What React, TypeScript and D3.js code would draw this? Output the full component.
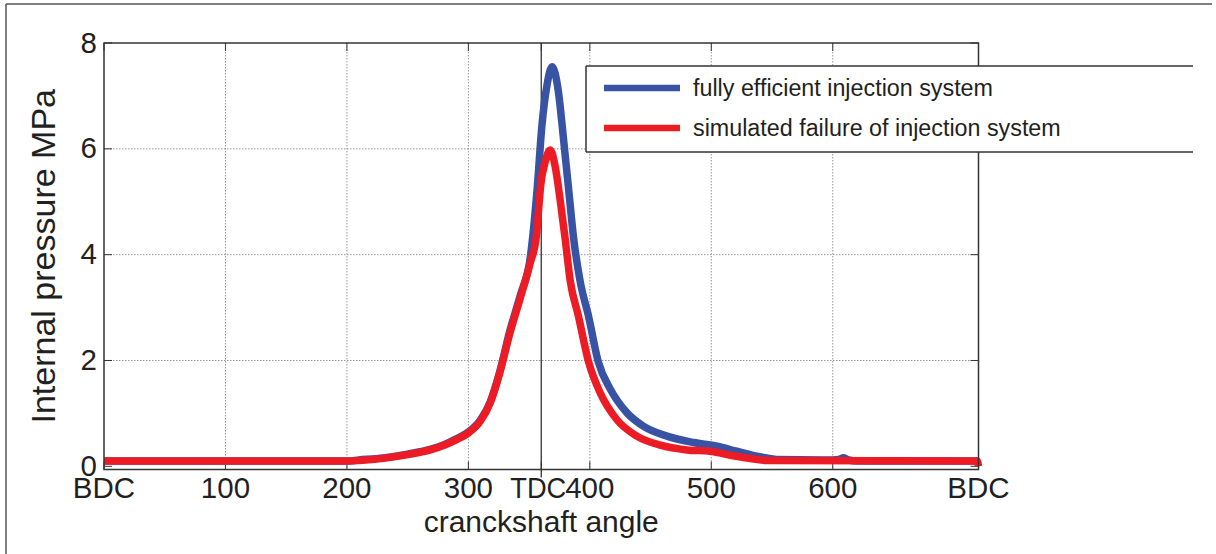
import React from "react";
import * as d3 from "d3";

// Crank angle (deg) and internal pressure (MPa)
const blueAngles = [0, 200, 210, 230, 250, 270, 280, 290, 300, 310, 318, 326, 334, 343, 351, 356.5, 360.6, 364.7, 369, 374, 378.4, 382.6, 386.7, 392, 399, 407, 417, 430.6, 444, 463.5, 485.5, 504.7, 521, 540, 554, 600, 605, 609, 613, 620, 720];
const blueValues = [0.1, 0.1, 0.12, 0.16, 0.23, 0.33, 0.41, 0.52, 0.65, 0.88, 1.22, 1.8, 2.55, 3.25, 3.95, 5.2, 6.45, 7.2, 7.55, 7.1, 6.17, 5.22, 4.3, 3.5, 2.83, 1.97, 1.45, 1.01, 0.76, 0.57, 0.45, 0.38, 0.285, 0.18, 0.13, 0.12, 0.13, 0.16, 0.12, 0.1, 0.1];

const redAngles = [0, 200, 210, 230, 250, 270, 280, 290, 300, 310, 318, 326, 334, 343, 351, 356, 358, 359.5, 363, 367.4, 371.5, 375.6, 379.8, 383.9, 390.7, 399, 408.5, 422.3, 438.7, 458, 480, 499, 518, 535, 546, 719, 720];
const redValues = [0.1, 0.1, 0.11, 0.15, 0.22, 0.32, 0.4, 0.5, 0.63, 0.86, 1.2, 1.78, 2.5, 3.2, 3.85, 4.35, 4.9, 5.3, 5.73, 5.98, 5.66, 5.03, 4.28, 3.5, 2.83, 1.97, 1.39, 0.88, 0.57, 0.4, 0.31, 0.285, 0.2, 0.14, 0.11, 0.1, 0.0];

const xTickValues = [0, 100, 200, 300, 360, 400, 500, 600, 720];
const xTickLabels = ["BDC", "100", "200", "300", "TDC", "400", "500", "600", "BDC"];
const xGridValues = [100, 200, 300, 400, 500, 600];
const yTickValues = [0, 2, 4, 6, 8];
const yGridValues = [2, 4, 6];

const seriesNames = ["fully efficient injection system", "simulated failure of injection system"];
const seriesColors = ["#3953a4", "#ed1c24"];

const W = 1216;
const H = 554;
const L = 104, R = 978.5, T = 43, B = 469.5;
const FONT = "'Liberation Sans', Arial, Helvetica, sans-serif";
const TEXT = "#231f20";
const AX = "#333333";

export default function App() {
  const x = d3.scaleLinear().domain([0, 720]).range([L, R]);
  const y = d3.scaleLinear().domain([-0.06, 8]).range([B, T]);
  const line = d3
    .line<[number, number]>()
    .x((d) => x(d[0]))
    .y((d) => y(d[1]))
    .curve(d3.curveMonotoneX);
  const blue: [number, number][] = blueAngles.map((a, i) => [a, blueValues[i]]);
  const red: [number, number][] = redAngles.map((a, i) => [a, redValues[i]]);

  const tickLen = 8;

  return (
    <svg
      width={W}
      height={H}
      style={{ position: "absolute", left: 0, top: 0, background: "#fff" }}
      fontFamily={FONT}
    >
      <rect x={0} y={0} width={W} height={H} fill="#fff" />
      {/* outer figure frame (top & left) */}
      <line x1={6} y1={4} x2={1212} y2={4} stroke="#555" strokeWidth={1.5} />
      <line x1={6} y1={4} x2={6} y2={H} stroke="#555" strokeWidth={1.5} />

      {/* grid */}
      {xGridValues.map((v) => (
        <line key={"gx" + v} x1={x(v)} x2={x(v)} y1={T} y2={B} stroke="#8a8a8a" strokeWidth={0.9} strokeDasharray="1.5,1.5" />
      ))}
      {yGridValues.map((v) => (
        <line key={"gy" + v} x1={L} x2={R} y1={y(v)} y2={y(v)} stroke="#8a8a8a" strokeWidth={0.9} strokeDasharray="1.5,1.5" />
      ))}

      {/* TDC line */}
      <line x1={x(360)} x2={x(360)} y1={T} y2={B + 8} stroke={AX} strokeWidth={1.3} />

      {/* ticks */}
      {xTickValues.map((v) => (
        <g key={"tx" + v}>
          <line x1={x(v)} x2={x(v)} y1={B} y2={B - tickLen} stroke={AX} strokeWidth={1} />
          <line x1={x(v)} x2={x(v)} y1={T} y2={T + tickLen} stroke={AX} strokeWidth={1} />
        </g>
      ))}
      {yTickValues.map((v) => (
        <g key={"ty" + v}>
          <line x1={L} x2={L + tickLen} y1={y(v)} y2={y(v)} stroke={AX} strokeWidth={1} />
          <line x1={R} x2={R - tickLen} y1={y(v)} y2={y(v)} stroke={AX} strokeWidth={1} />
        </g>
      ))}

      {/* data */}
      <path d={line(blue) || ""} fill="none" stroke={seriesColors[0]} strokeWidth={7.5} strokeLinejoin="round" />
      <path d={line(red) || ""} fill="none" stroke={seriesColors[1]} strokeWidth={7.5} strokeLinejoin="round" />

      {/* axes box */}
      <rect x={L} y={T} width={R - L} height={B - T} fill="none" stroke={AX} strokeWidth={1.5} />

      {/* tick labels */}
      {xTickValues.map((v, i) =>
        xTickLabels[i] === "TDC" ? (
          <text key={"lx" + v} x={x(v) - 3} y={498} textAnchor="middle" fontSize={29.5} fill={TEXT} textLength={56} lengthAdjust="spacingAndGlyphs">
            {xTickLabels[i]}
          </text>
        ) : (
          <text key={"lx" + v} x={x(v)} y={498} textAnchor="middle" fontSize={29.5} fill={TEXT}>
            {xTickLabels[i]}
          </text>
        )
      )}
      {yTickValues.map((v) => (
        <text key={"ly" + v} x={97} y={y(v) + 9.5} textAnchor="end" fontSize={29.5} fill={TEXT}>
          {v}
        </text>
      ))}

      {/* axis titles */}
      <text x={(L + R) / 2} y={532} textAnchor="middle" fontSize={30} fill={TEXT}>
        cranckshaft angle
      </text>
      <text
        transform={`translate(55, ${(T + B) / 2}) rotate(-90)`}
        textAnchor="middle"
        fontSize={34}
        fill={TEXT}
      >
        Internal pressure MPa
      </text>

      {/* legend */}
      <rect x={586} y={66} width={620} height={86} fill="#fff" stroke="none" />
      <line x1={586} y1={66} x2={1193} y2={66} stroke={AX} strokeWidth={1.5} />
      <line x1={586} y1={152} x2={1193} y2={152} stroke={AX} strokeWidth={1.5} />
      <line x1={586} y1={66} x2={586} y2={152} stroke={AX} strokeWidth={1.5} />
      {seriesNames.map((name, i) => (
        <g key={name}>
          <line x1={604} x2={680} y1={88 + i * 40} y2={88 + i * 40} stroke={seriesColors[i]} strokeWidth={6.5} />
          <text x={693} y={96 + i * 40} fontSize={23.3} fill={TEXT}>
            {name}
          </text>
        </g>
      ))}
    </svg>
  );
}
